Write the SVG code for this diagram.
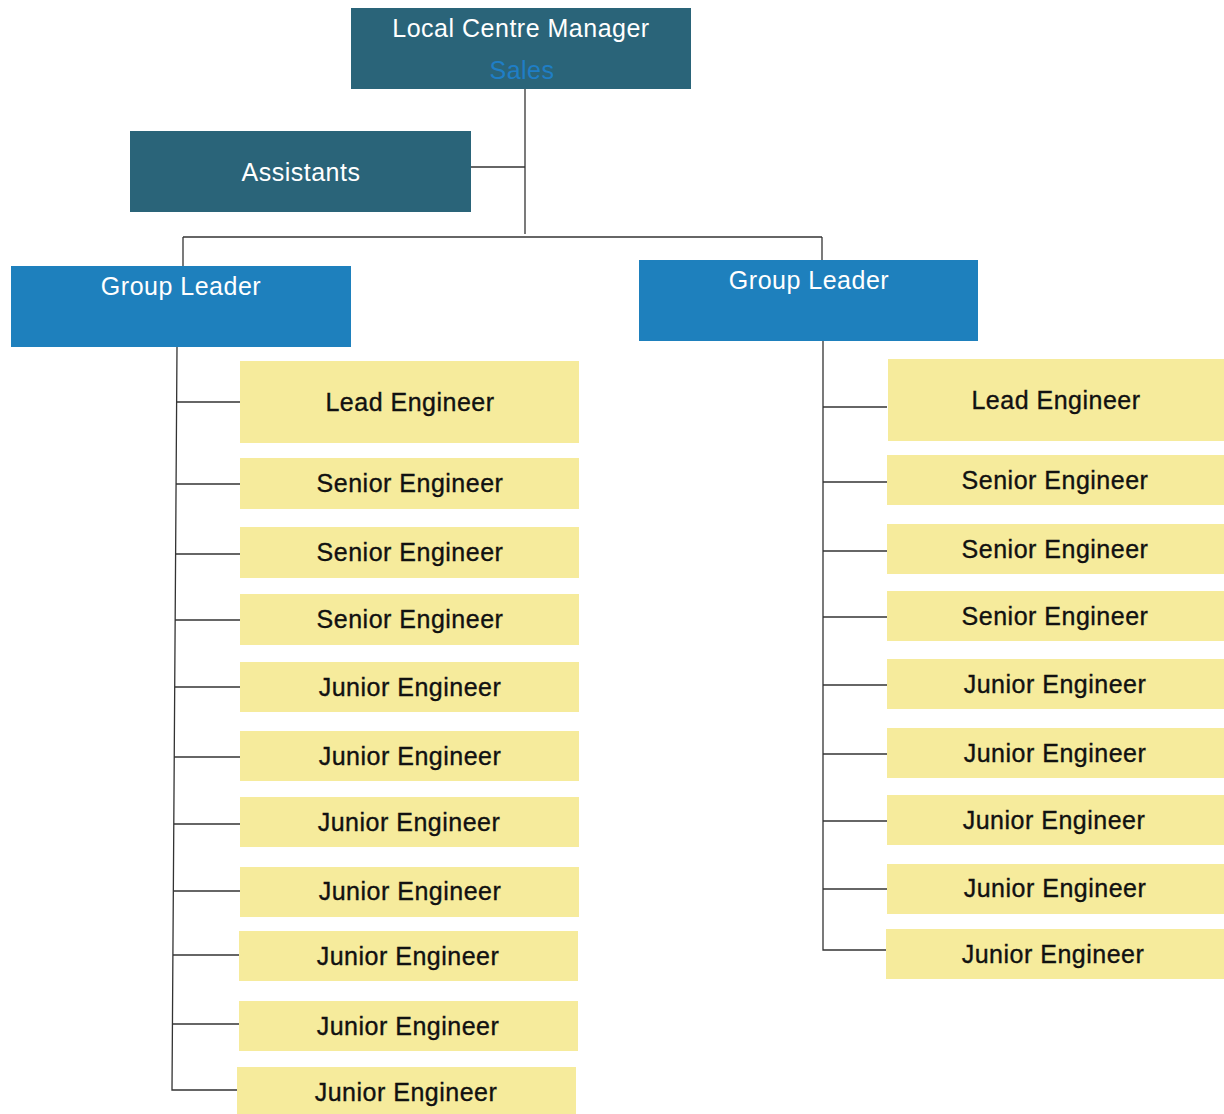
<svg xmlns="http://www.w3.org/2000/svg" width="1224" height="1114" viewBox="0 0 1224 1114">
  <style>
    .mgr { fill: #2a6479; }
    .grp { fill: #1e80bd; }
    .eng { fill: #f6eb9c; }
    .lbl { font-family: "Liberation Sans", Arial, sans-serif; font-size: 25px; letter-spacing: 0.5px; text-anchor: middle; }
    .wt { fill: #ffffff; }
    .bk { fill: #111111; stroke: #111111; stroke-width: 0.35; }
    .sub { fill: #1f7ec6; }
    .ln { stroke: #333333; stroke-width: 1.3; fill: none; }
  </style>
  <rect width="1224" height="1114" fill="#ffffff"/>

  <!-- connectors -->
  <g id="connectors" class="ln">
    <path d="M525 89 V234"/>
    <path d="M471 167 H525"/>
    <path d="M183 237 H822"/>
    <path d="M183 237 V266"/>
    <path d="M822 237 V260"/>
    <!-- left branch: spine leans slightly toward its foot -->
    <path d="M177 347 L172 1090 H237"/>
    <path d="M177 402 H240"/>
    <path d="M176 484 H240"/>
    <path d="M176 554 H240"/>
    <path d="M175 620 H240"/>
    <path d="M175 687 H240"/>
    <path d="M174 757 H240"/>
    <path d="M174 824 H240"/>
    <path d="M174 891 H240"/>
    <path d="M173 955 H240"/>
    <path d="M173 1024 H240"/>
    <!-- right branch -->
    <path d="M823 341 V950 H887"/>
    <path d="M823 407 H887"/>
    <path d="M823 482 H887"/>
    <path d="M823 551 H887"/>
    <path d="M823 617 H887"/>
    <path d="M823 685 H887"/>
    <path d="M823 754 H887"/>
    <path d="M823 821 H887"/>
    <path d="M823 889 H887"/>
  </g>

  <!-- management -->
  <g id="local-centre-manager">
    <rect class="mgr" x="351" y="8" width="340" height="81"/>
    <text class="lbl wt" x="521" y="37">Local Centre Manager</text>
    <text class="lbl sub" x="522" y="79">Sales</text>
  </g>
  <g id="assistants">
    <rect class="mgr" x="130" y="131" width="341" height="81"/>
    <text class="lbl wt" x="301" y="181">Assistants</text>
  </g>

  <!-- group leaders -->
  <g id="group-leader-left">
    <rect class="grp" x="11" y="266" width="340" height="81"/>
    <text class="lbl wt" x="181" y="295">Group Leader</text>
  </g>
  <g id="group-leader-right">
    <rect class="grp" x="639" y="260" width="339" height="81"/>
    <text class="lbl wt" x="809" y="289">Group Leader</text>
  </g>

  <!-- left team -->
  <g id="left-lead"><rect class="eng" x="240" y="361" width="339" height="82"/><text class="lbl bk" x="410" y="411">Lead Engineer</text></g>
  <g id="left-senior-1"><rect class="eng" x="240" y="458" width="339" height="51"/><text class="lbl bk" x="410" y="492">Senior Engineer</text></g>
  <g id="left-senior-2"><rect class="eng" x="240" y="527" width="339" height="51"/><text class="lbl bk" x="410" y="561">Senior Engineer</text></g>
  <g id="left-senior-3"><rect class="eng" x="240" y="594" width="339" height="51"/><text class="lbl bk" x="410" y="628">Senior Engineer</text></g>
  <g id="left-junior-1"><rect class="eng" x="240" y="662" width="339" height="50"/><text class="lbl bk" x="410" y="696">Junior Engineer</text></g>
  <g id="left-junior-2"><rect class="eng" x="240" y="731" width="339" height="50"/><text class="lbl bk" x="410" y="765">Junior Engineer</text></g>
  <g id="left-junior-3"><rect class="eng" x="240" y="797" width="339" height="50"/><text class="lbl bk" x="409" y="831">Junior Engineer</text></g>
  <g id="left-junior-4"><rect class="eng" x="240" y="867" width="339" height="50"/><text class="lbl bk" x="410" y="900">Junior Engineer</text></g>
  <g id="left-junior-5"><rect class="eng" x="239" y="931" width="339" height="50"/><text class="lbl bk" x="408" y="965">Junior Engineer</text></g>
  <g id="left-junior-6"><rect class="eng" x="239" y="1001" width="339" height="50"/><text class="lbl bk" x="408" y="1035">Junior Engineer</text></g>
  <g id="left-junior-7"><rect class="eng" x="237" y="1067" width="339" height="47"/><text class="lbl bk" x="406" y="1101">Junior Engineer</text></g>

  <!-- right team -->
  <g id="right-lead"><rect class="eng" x="888" y="359" width="336" height="82"/><text class="lbl bk" x="1056" y="409">Lead Engineer</text></g>
  <g id="right-senior-1"><rect class="eng" x="887" y="455" width="337" height="50"/><text class="lbl bk" x="1055" y="489">Senior Engineer</text></g>
  <g id="right-senior-2"><rect class="eng" x="887" y="524" width="337" height="50"/><text class="lbl bk" x="1055" y="558">Senior Engineer</text></g>
  <g id="right-senior-3"><rect class="eng" x="887" y="591" width="337" height="50"/><text class="lbl bk" x="1055" y="625">Senior Engineer</text></g>
  <g id="right-junior-1"><rect class="eng" x="887" y="659" width="337" height="50"/><text class="lbl bk" x="1055" y="693">Junior Engineer</text></g>
  <g id="right-junior-2"><rect class="eng" x="887" y="728" width="337" height="50"/><text class="lbl bk" x="1055" y="762">Junior Engineer</text></g>
  <g id="right-junior-3"><rect class="eng" x="887" y="795" width="337" height="50"/><text class="lbl bk" x="1054" y="829">Junior Engineer</text></g>
  <g id="right-junior-4"><rect class="eng" x="887" y="864" width="337" height="50"/><text class="lbl bk" x="1055" y="897">Junior Engineer</text></g>
  <g id="right-junior-5"><rect class="eng" x="886" y="929" width="338" height="50"/><text class="lbl bk" x="1053" y="963">Junior Engineer</text></g>
</svg>
